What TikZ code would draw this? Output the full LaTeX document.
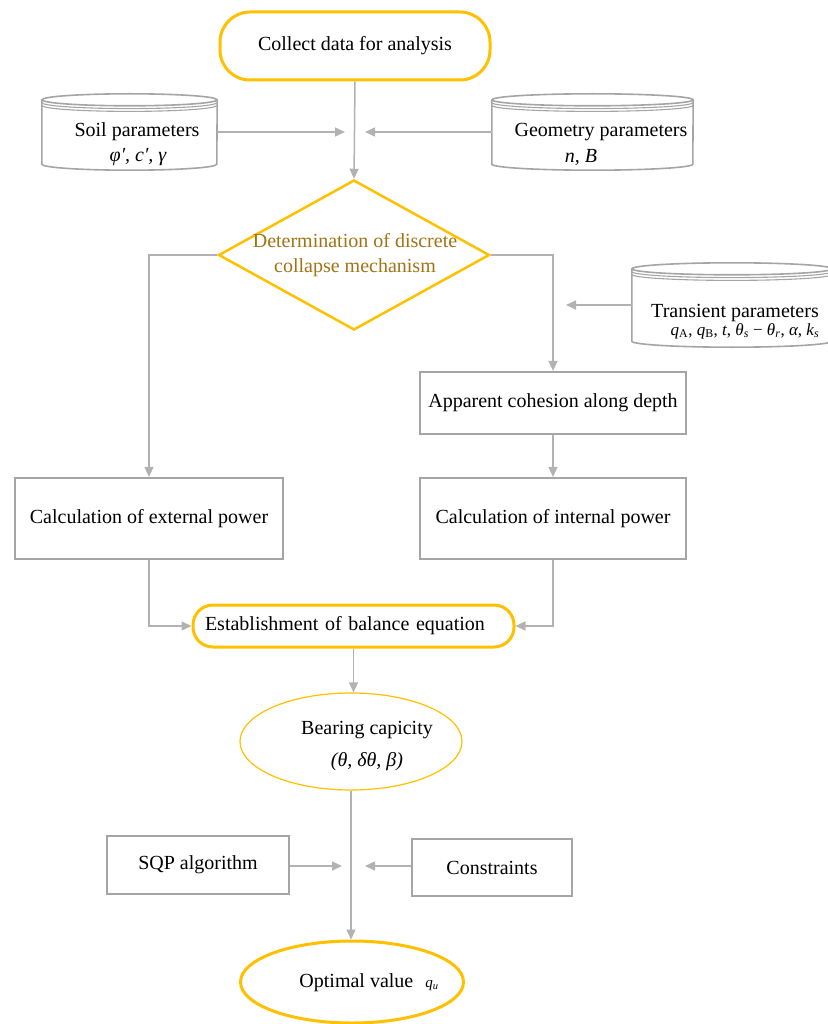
\documentclass[tikz,border=0pt]{standalone}
\usepackage{fontspec}
\setmainfont{Liberation Serif}
\usetikzlibrary{arrows.meta,shapes.geometric,calc}
\definecolor{gold}{RGB}{255,192,0}
\definecolor{lgray}{RGB}{178,178,178}
\definecolor{bgray}{RGB}{165,165,165}
\definecolor{dgold}{RGB}{160,115,20}
\newcommand\mycyl[2]{%
  \draw[cylline] (#1.north west) -- (#1.south west)
     arc[start angle=180,end angle=360,x radius=#2pt,y radius=6pt] -- (#1.north east);
  \draw[cylline] (#1.north) ellipse[x radius=#2pt,y radius=6pt];
  \draw[cylline,line width=1.1pt] ($(#1.north west)+(0,-2.8)$)
     arc[start angle=180,end angle=360,x radius=#2pt,y radius=6pt];
  \draw[cylline,line width=1.1pt] ($(#1.north west)+(0,-5.6)$)
     arc[start angle=180,end angle=360,x radius=#2pt,y radius=6pt];
}
\begin{document}
\begin{tikzpicture}[x=1pt,y=1pt,
  font=\fontsize{20}{24}\selectfont,
  conn/.style={draw=lgray, line width=1.5pt, -{Triangle[length=10pt,width=9pt]}},
  plain/.style={draw=lgray, line width=1.5pt},
  term/.style={draw=gold, line width=3pt, rounded corners=30pt, inner sep=0pt},
  dec/.style={diamond, draw=gold, line width=2.5pt, inner sep=0pt},
  procbox/.style={rectangle, draw=bgray, line width=2.2pt, inner sep=0pt},
  cylbody/.style={rectangle, draw=none, inner sep=0pt},
  cylline/.style={draw=bgray, line width=1.6pt},
  oval/.style={ellipse, draw=gold, inner sep=0pt}]
\useasboundingbox (0,0) rectangle (827,-1024);

% start
\node[term, minimum width=270pt, minimum height=68pt] (start) at (355,-46) {Collect data for analysis};

% cylinders
\node[cylbody, minimum width=175pt, minimum height=64pt] (soil) at (129.5,-132) {};
\mycyl{soil}{87.5}
\node (soilt) at (137,-132) {Soil parameters};
\node (soilm) at (138,-157) {\itshape φ′, c′, γ};

\node[cylbody, minimum width=201pt, minimum height=64pt] (geo) at (592.5,-132) {};
\mycyl{geo}{100.5}
\node (geot) at (601,-132) {Geometry parameters};
\node (geom) at (581,-157) {\itshape n, B};

\node[cylbody, minimum width=200pt, minimum height=72pt] (trans) at (732,-305) {};
\mycyl{trans}{100}
\node (transt) at (735,-313) {Transient parameters};
\node[font=\fontsize{17}{20}\selectfont] (transm) at (745,-331)
  {\textit{q}\textsubscript{A}, \textit{q}\textsubscript{B}, \textit{t}, \textit{θ}\textsubscript{\textit{s}} − \textit{θ}\textsubscript{\textit{r}}, \textit{α}, \textit{k}\textsubscript{\textit{s}}};

% decision
\node[dec, minimum width=271pt, minimum height=150pt] (dia) at (354,-255) {};
\node[text=dgold, align=center, font=\fontsize{20}{25}\selectfont] (diat) at (355,-255.5)
  {Determination of discrete\\collapse mechanism};

% process boxes
\node[procbox, minimum width=266pt, minimum height=62pt] (coh) at (553,-403) {Apparent cohesion along depth};
\node[procbox, minimum width=268pt, minimum height=81pt] (ext) at (149,-518.5) {Calculation of external power};
\node[procbox, minimum width=266pt, minimum height=81pt] (int) at (553,-518.5) {Calculation of internal power};

% balance
\node[draw=gold, line width=3pt, rounded corners=20pt, minimum width=321pt, minimum height=42pt,
      text width=297pt, inner xsep=12pt, inner ysep=0pt, align=left] (bal) at (353.5,-626)
  {Establishment of balance equation};

% bearing capacity
\node[oval, line width=1.2pt, minimum width=222pt, minimum height=97pt] (bear) at (351,-741.5) {};
\node[align=center, font=\fontsize{20}{24}\selectfont] (beart) at (367,-746)
  {Bearing capicity\\[8pt]{\itshape (θ, δθ, β)}};

% SQP and constraints
\node[procbox, minimum width=182pt, minimum height=58pt] (sqp) at (198,-865) {SQP algorithm};
\node[procbox, minimum width=160pt, minimum height=57pt] (cons) at (492,-867.5) {Constraints};

% optimal
\node[oval, line width=3pt, minimum width=223pt, minimum height=82pt] (opt) at (352,-982) {};
\node (optt) at (369,-983) {Optimal value\hspace{12pt}{\fontsize{15}{18}\selectfont\textit{q}\textsubscript{\textit{u}}}};

% junction coordinates
\coordinate (j1) at (345,-132);
\coordinate (j2) at (365,-132);
\coordinate (j3) at (566,-305);
\coordinate (j4) at (342,-866);
\coordinate (j5) at (365,-866);

% connectors
\draw[conn] (start.south) -- (dia.north);
\draw[conn] (soil.east) -- (j1);
\draw[conn] (geo.west) -- (j2);
\draw[conn] (dia.west) -| (ext.north);
\draw[conn] (dia.east) -| (coh.north);
\draw[conn] (trans.west) -- (j3);
\draw[conn] (coh.south) -- (int.north);
\draw[conn] (ext.south) |- (bal.west);
\draw[conn] (int.south) |- (bal.east);
\draw[conn] (bal.south) -- (bal.south |- bear.north);
\draw[conn] (bear.south) -- (bear.south |- opt.north);
\draw[conn] (sqp.east |- j4) -- (j4);
\draw[conn] (cons.west |- j5) -- (j5);
\end{tikzpicture}
\end{document}
